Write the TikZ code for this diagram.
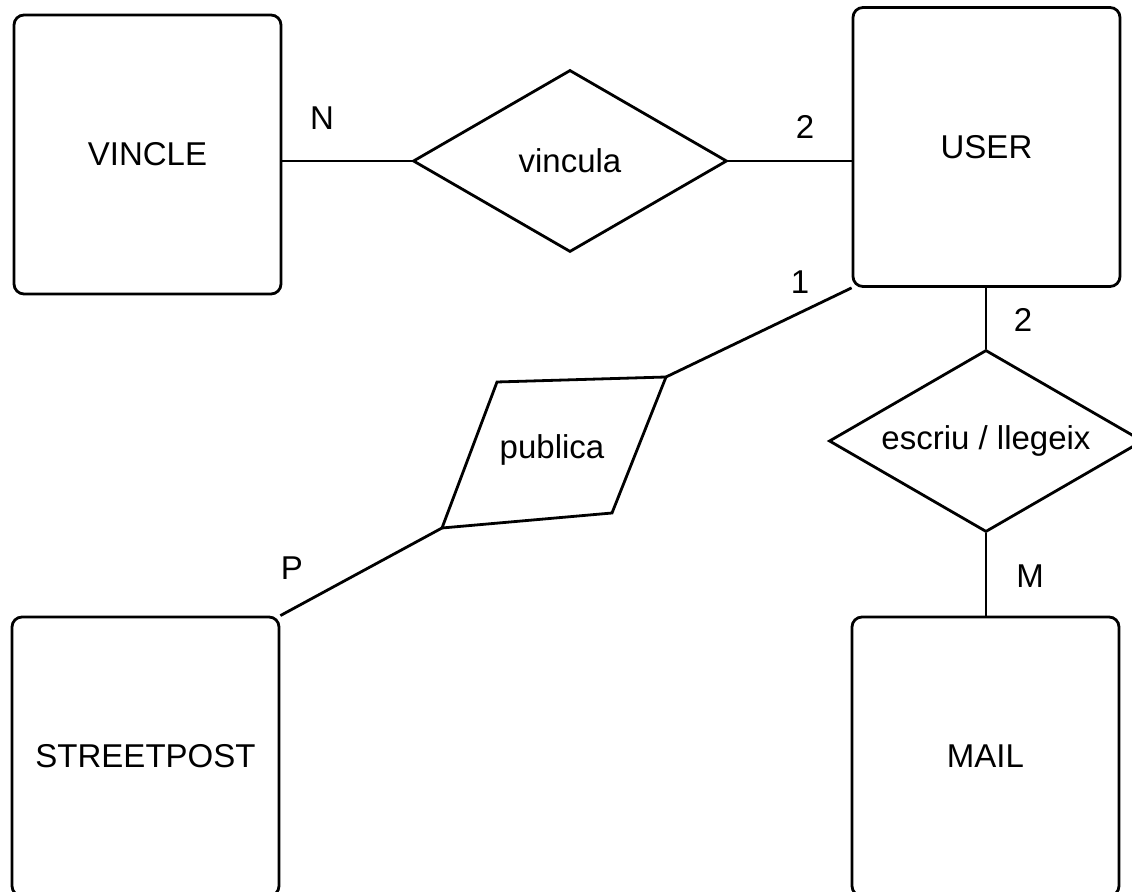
\documentclass[tikz,border=0pt]{standalone}
\usepackage{fontspec}
\setmainfont{Liberation Sans}
\usepackage{tikz}
\usetikzlibrary{shapes.geometric}

\tikzset{
    entity/.style = {draw, line width = 1.4pt, rounded corners = 5pt, inner sep = 0pt,
        minimum width = 133.5pt, minimum height = 139.5pt},
    relation/.style = {draw, diamond, aspect = 1.73, line width = 1.4pt, inner sep = 0pt,
        minimum width = 157pt, minimum height = 91pt},
    card/.style = {inner sep = 0pt},
    link/.style = {line width = 1.4pt}
}

\begin{document}
\begin{tikzpicture}[x = 0.5pt, y = -0.5pt, font = \fontsize{16.5}{20}\selectfont]
                \useasboundingbox (0, 0) rectangle (1132, 892);
                % entitats
                \node[entity] (vincle) at (147.5, 154.5) {VINCLE};
                \node[entity] (user) at (986.5, 147) {USER};
                \node[entity] (streetpost) at (145.5, 756.5) {STREETPOST};
                \node[entity] (mail) at (985.5, 756.5) {MAIL};
                % relacions
                \node[relation] (vincula) at (570, 161) {vincula};
                \node[relation] (escriu) at (986, 441) {escriu / llegeix};
                \coordinate (pubW) at (442, 528);
                \coordinate (pubN) at (497, 382);
                \coordinate (pubE) at (666, 377);
                \coordinate (pubS) at (612, 513);
                \draw[link, line join = miter] (pubW) -- (pubN) -- (pubE) -- (pubS) -- cycle;
                \node (publica) at (552, 450) {publica};
                % connexions
                \draw[link] (vincula.west) -- (vincula.west -| vincle.east);
                \draw[link] (vincula.east) -- (vincula.east -| user.west);
                \draw[link] (user.south west) -- (pubE);
                \draw[link] (pubW) -- (streetpost.north east);
                \draw[link] (escriu.north) -- (escriu.north |- user.south);
                \draw[link] (escriu.south) -- (escriu.south |- mail.north);
                % cardinalitats
                \node[card] (cardN) at (322, 118) {N};
                \node[card] (cardVU) at (805, 127) {2};
                \node[card] (cardPU) at (800, 282) {1};
                \node[card] (cardP) at (292, 568) {P};
                \node[card] (cardEU) at (1023, 320) {2};
                \node[card] (cardM) at (1030, 576) {M};
            \end{tikzpicture}
\end{document}
